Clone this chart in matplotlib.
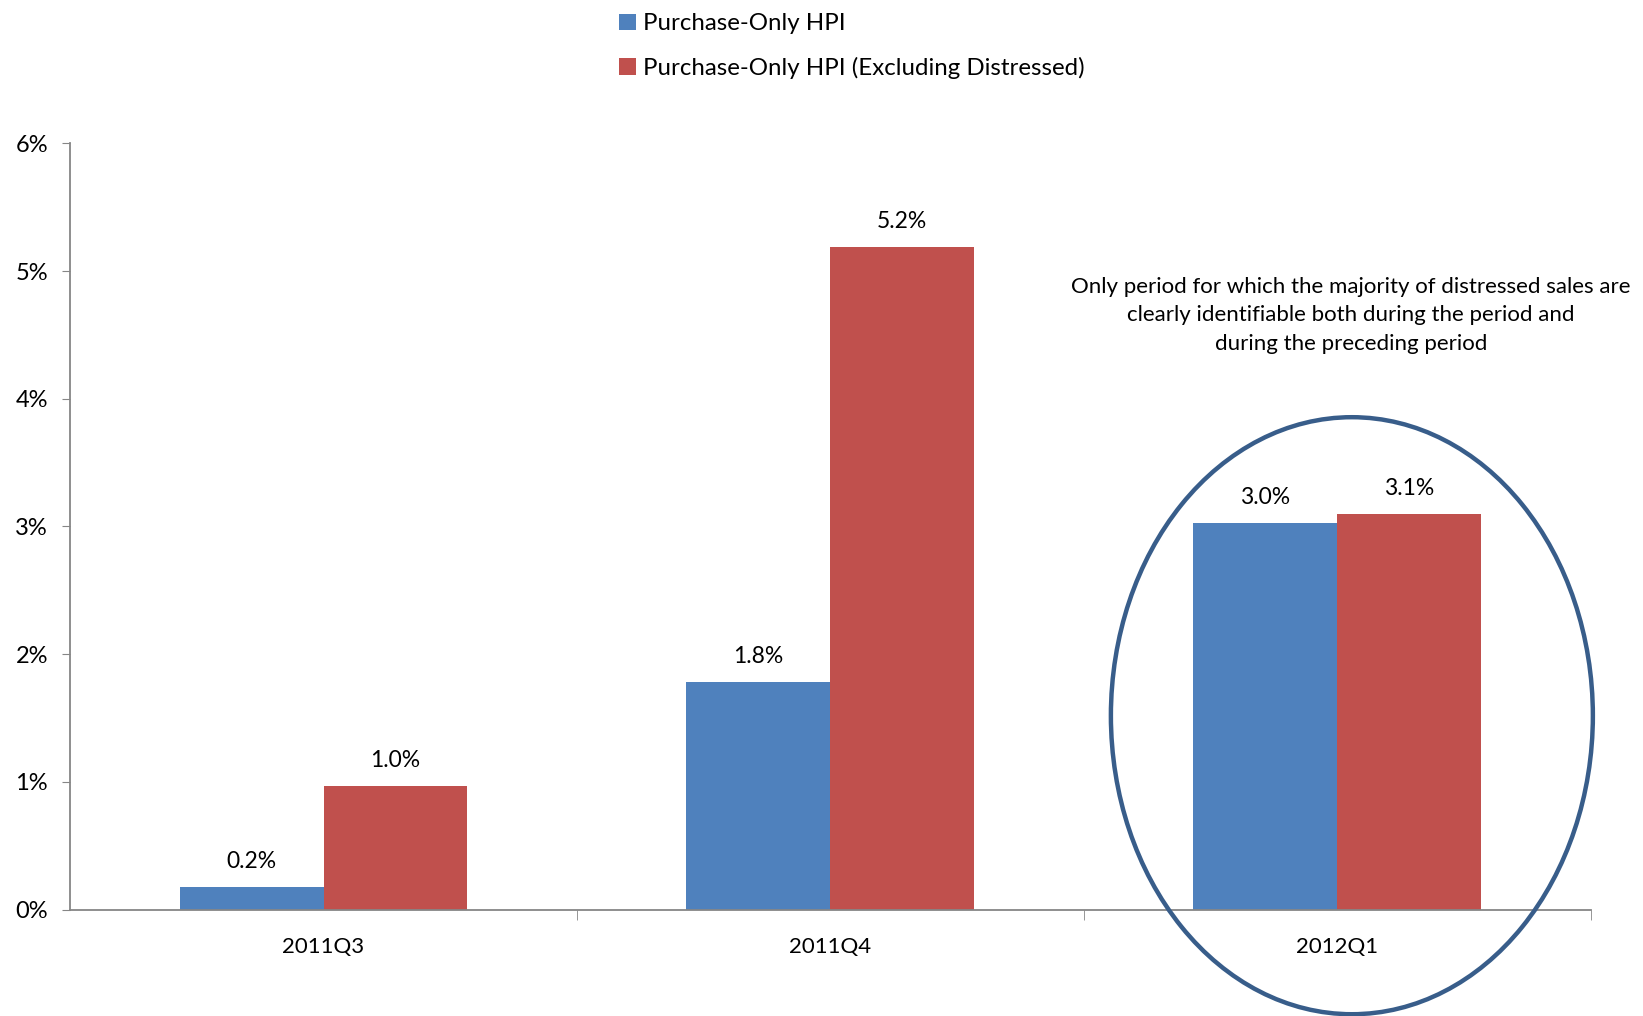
import matplotlib
matplotlib.use("Agg")
import numpy as np
import matplotlib.pyplot as plt
from matplotlib.patches import Ellipse, Patch

plt.rcParams['font.family'] = ['Lato', 'DejaVu Sans']

# data (percent)
quarters = ['2011Q3', '2011Q4', '2012Q1']
hpi_all = [0.18, 1.78, 3.03]
hpi_ex_distressed = [0.97, 5.19, 3.10]
series_names = ['Purchase-Only HPI', 'Purchase-Only HPI (Excluding Distressed)']
y_ticks = [0, 1, 2, 3, 4, 5, 6]
note = ('Only period for which the majority of distressed sales are\n'
        'clearly identifiable both during the period and\n'
        'during the preceding period')

blue = '#4F81BD'
red = '#C0504D'
gray = '#868686'

fig = plt.figure(figsize=(16.43, 10.16), dpi=100)
ax = fig.add_axes([0.0427, 0.1048, 0.9254, 0.754])

x = np.arange(len(quarters))
w = 0.284
b1 = ax.bar(x - w / 2, hpi_all, w, color=blue, edgecolor='none')
b2 = ax.bar(x + w / 2, hpi_ex_distressed, w, color=red, edgecolor='none')

for bars, vals in ((b1, hpi_all), (b2, hpi_ex_distressed)):
    for rect, v in zip(bars, vals):
        ax.annotate(f'{v:.1f}%', (rect.get_x() + rect.get_width() / 2, v),
                    xytext=(0, 15), textcoords='offset pixels',
                    ha='center', va='bottom', fontsize=16.5)

ax.set_xlim(-0.5, 2.5)
ax.set_ylim(0, 6)
ax.set_yticks(y_ticks)
ax.set_yticklabels([f'{t}%' for t in y_ticks], fontsize=17)
ax.tick_params(axis='y', direction='out', length=6, color=gray, pad=10)

# category labels centered, ticks on category boundaries
ax.set_xticks(x)
ax.set_xticklabels(quarters, fontsize=16)
ax.tick_params(axis='x', length=0, pad=20)
ax.set_xticks([0.5, 1.5, 2.5], minor=True)
ax.tick_params(axis='x', which='minor', direction='out', length=7, color=gray)

for side in ('top', 'right'):
    ax.spines[side].set_visible(False)
for side in ('left', 'bottom'):
    ax.spines[side].set_color(gray)
    ax.spines[side].set_linewidth(1.3)

# highlight circle around the last quarter
ell = Ellipse((x[-1] + 0.029, 1.518), 0.951, 4.676, fill=False,
              edgecolor='#385D8A', linewidth=3.2, clip_on=False, zorder=5)
ax.add_patch(ell)
ax.text(x[-1] + 0.027, 4.655, note, ha='center', va='center',
        fontsize=16, linespacing=1.52)

handles = [Patch(facecolor=blue), Patch(facecolor=red)]
fig.legend(handles, series_names, loc='upper left',
           bbox_to_anchor=(0.3635, 1.008), frameon=False, fontsize=17.3,
           handlelength=0.7, handleheight=0.7, handletextpad=0.3,
           labelspacing=0.93)

fig.savefig('out.png', dpi=100)
